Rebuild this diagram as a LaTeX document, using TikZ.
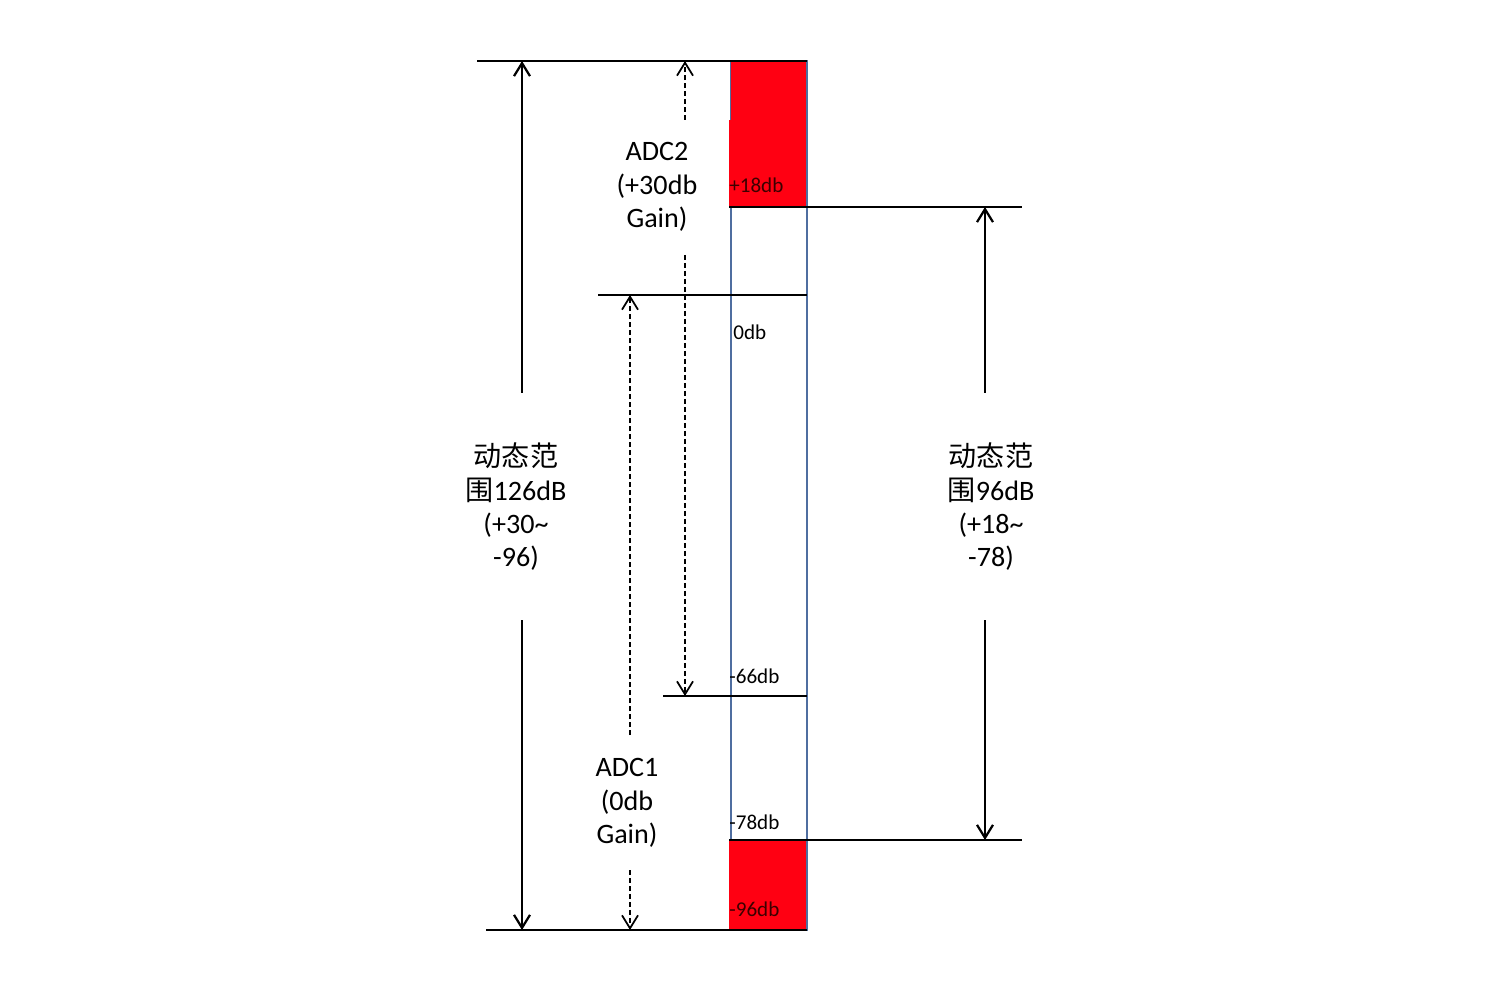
\documentclass[tikz,border=0pt]{standalone}
\usepackage{fontspec}
\setmainfont{Carlito}
\newfontfamily\cjk{Noto Sans CJK SC}
\usetikzlibrary{arrows.meta}
\definecolor{barred}{RGB}{255,0,18}
\definecolor{barblue}{RGB}{79,110,160}
\definecolor{dbdark}{RGB}{60,0,0}
\tikzset{
  level/.style={line width=0.5mm, color=black},
  span/.style={line width=0.45mm, -{Straight Barb[length=2.6mm,width=3.2mm]}},
  dspan/.style={span, line width=0.35mm, dash pattern=on 1mm off 0.6mm},
  dblabel/.style={anchor=west, inner sep=0pt, font=\fontsize{12}{14}\selectfont},
  rangelabel/.style={align=center, inner sep=0pt, font=\fontsize{16}{19}\selectfont}
}

\begin{document}
\begin{tikzpicture}[x=0.02cm, y=-0.02cm]
		%%%%% START %%%%%
		\useasboundingbox (0,0) rectangle (1494,996);
		
		% column
		\draw[line width=0.3mm, color=barblue] (731,61) rectangle (807,930);
		\fill[barred] (729,120) rectangle (806,207);
		\fill[barred] (731,61) rectangle (806,120);
		\fill[barred] (729,840) rectangle (806,930);
		
		% levels
		\coordinate (p30L) at (477,61);  \coordinate (p30R) at (807,61);
		\coordinate (p18L) at (729,207); \coordinate (p18R) at (1022,207);
		\coordinate (z0L) at (598,295);  \coordinate (z0R) at (807,295);
		\coordinate (m66L) at (663,696); \coordinate (m66R) at (807,696);
		\coordinate (m78L) at (729,840); \coordinate (m78R) at (1022,840);
		\coordinate (m96L) at (486,930); \coordinate (m96R) at (807,930);
		
		\draw[level] (p30L) -- (p30R);
		\draw[level] (p18L) -- (p18R);
		\draw[level] (z0L) -- (z0R);
		\draw[level] (m66L) -- (m66R);
		\draw[level] (m78L) -- (m78R);
		\draw[level] (m96L) -- (m96R);
		
		% db marks
		\node[dblabel, color=dbdark] (l18) at (729,185) {+18db};
		\node[dblabel] (l0) at (733,332) {0db};
		\node[dblabel] (l66) at (729,676) {-66db};
		\node[dblabel] (l78) at (729,822) {-78db};
		\node[dblabel, color=dbdark] (l96) at (729,909) {-96db};
		
		% labels
		\node[rangelabel] (adc2) at (657,187) {ADC2\\(+30db\\Gain)};
		\node[rangelabel] (adc1) at (627,803) {ADC1\\(0db\\Gain)};
		\node[rangelabel] (dr126) at (516,507) {{\cjk 动态范}\\{\cjk 围}126dB\\(+30\textasciitilde\\-96)};
		\node[rangelabel] (dr96) at (991,507) {{\cjk 动态范}\\{\cjk 围}96dB\\(+18\textasciitilde\\-78)};
		
		% ranges
		\coordinate (lu) at (522,393); \coordinate (ld) at (522,620);
		\draw[span] (lu) -- (lu |- p30L);
		\draw[span] (ld) -- (ld |- m96L);
		
		\coordinate (ru) at (985,393); \coordinate (rd) at (985,620);
		\draw[span] (ru) -- (ru |- p18L);
		\draw[span] (rd) -- (rd |- m78L);
		
		\coordinate (a2u) at (685,120); \coordinate (a2d) at (685,255);
		\draw[dspan] (a2u) -- (a2u |- p30L);
		\draw[dspan] (a2d) -- (a2d |- m66L);
		
		\coordinate (a1u) at (630,735); \coordinate (a1d) at (630,870);
		\draw[dspan] (a1u) -- (a1u |- z0L);
		\draw[dspan] (a1d) -- (a1d |- m96L);
		
		%%%%% END %%%%%
	\end{tikzpicture}
\end{document}
